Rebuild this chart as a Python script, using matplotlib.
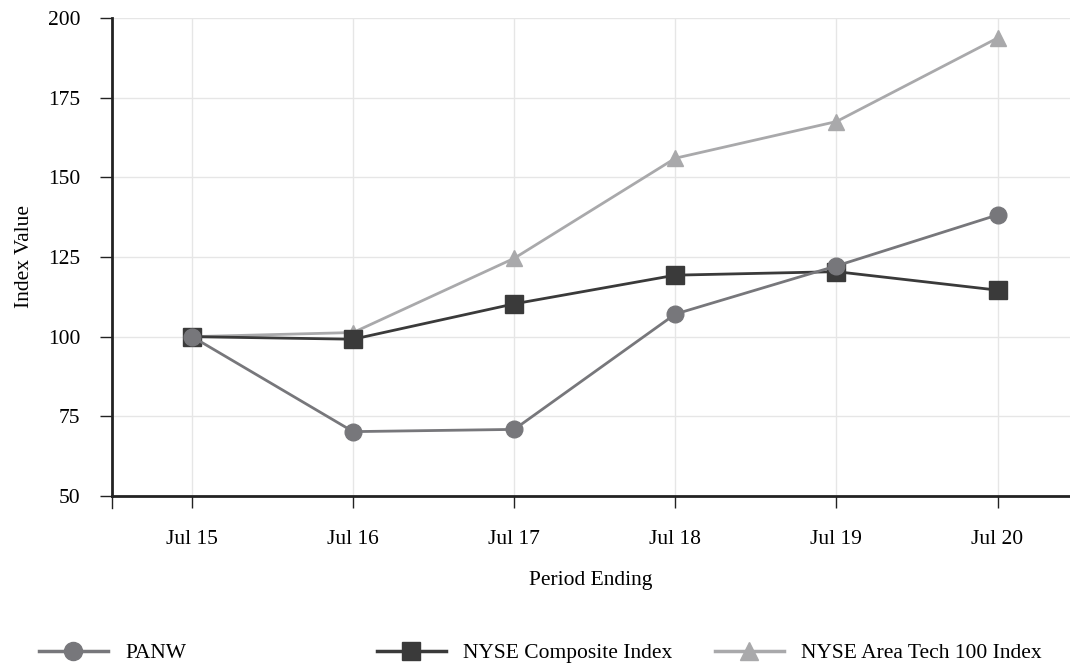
import matplotlib
matplotlib.use("Agg")
import matplotlib.pyplot as plt
from matplotlib.lines import Line2D

FS = 15.5
plt.rcParams.update({'font.family': 'Liberation Serif', 'font.size': FS})

# Data
periods = ["Jul 15", "Jul 16", "Jul 17", "Jul 18", "Jul 19", "Jul 20"]
panw = [100.0, 70.2, 70.9, 107.1, 122.2, 138.2]
nyse_comp = [100.0, 99.2, 110.3, 119.3, 120.4, 114.6]
nyse_tech = [100.0, 101.3, 124.6, 156.0, 167.5, 193.7]
y_ticks = [50, 75, 100, 125, 150, 175, 200]

# name, values, colour, marker, size, zorder (PANW drawn on top)
series = [
    ("PANW", panw, "#77777b", "o", 12, 5),
    ("NYSE Composite Index", nyse_comp, "#3a3a3a", "s", 12.5, 4),
    ("NYSE Area Tech 100 Index", nyse_tech, "#a9a9ab", "^", 11.5, 3),
]

fig = plt.figure(figsize=(10.7, 6.67), dpi=100)
# axes box in pixels: left 112, right 1070, top 18, bottom 496
ax = fig.add_axes([112 / 1070, 1 - 496 / 667, (1070 - 112) / 1070, (496 - 18) / 667])

x = list(range(len(periods)))
for name, vals, col, mk, ms, z in series:
    ax.plot(x, vals, color=col, lw=2, marker=mk, markersize=ms, label=name, zorder=z)

ax.set_xlim(-0.497, 5.45)
ax.set_ylim(50, 200)
ax.set_yticks(y_ticks)
ax.set_xticks(x)
ax.set_xticklabels(periods)
ax.grid(True, color="#e6e6e6", lw=1, zorder=0)
ax.set_axisbelow(True)

for s in ["top", "right"]:
    ax.spines[s].set_visible(False)
for s in ["left", "bottom"]:
    ax.spines[s].set_color("#222222")
    ax.spines[s].set_linewidth(2)

ax.tick_params(axis="y", length=8.6, width=1, color="#222222", pad=14, labelsize=FS)
ax.tick_params(axis="x", length=8.6, width=1, color="#222222", pad=16, labelsize=FS)
# extra tick at the axis origin
ax.plot([-0.497, -0.497], [50, 50 - 12 * 150 / 478], color="#222222", lw=1, clip_on=False)

ax.set_ylabel("Index Value", fontsize=FS, labelpad=10)
ax.set_xlabel("Period Ending", fontsize=FS, labelpad=16)

# legend along the bottom, one entry per slot
legend_x = [39, 377, 715]
for (name, vals, col, mk, ms, z), lx in zip(series, legend_x):
    h = Line2D([], [], color=col, lw=2.5, marker=mk, markersize=ms + 1)
    fig.legend(handles=[h], labels=[name], loc="center left",
               bbox_to_anchor=(lx / 1070, 1 - 653 / 667), frameon=False,
               borderaxespad=0, borderpad=0,
               handlelength=3.2, handletextpad=0.8, fontsize=FS)

fig.savefig("out.png", dpi=100)
